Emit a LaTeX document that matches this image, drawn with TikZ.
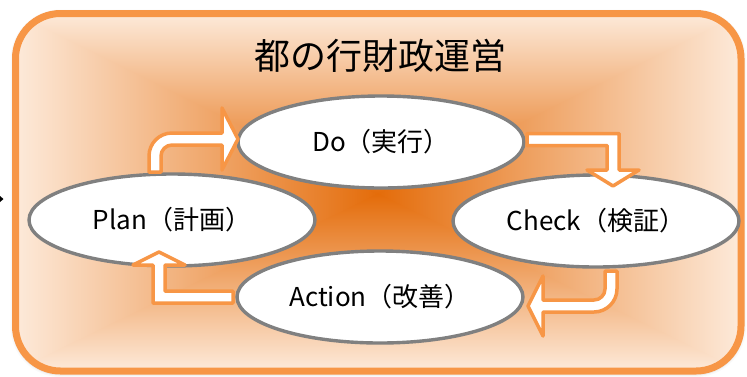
\documentclass[tikz,border=0pt]{standalone}
\usepackage{fontspec}
\setmainfont{Noto Sans CJK JP}
\usetikzlibrary{shapes.geometric,shadows.blur}
\definecolor{bord}{RGB}{247,150,70}
\definecolor{light}{RGB}{253,234,218}
\definecolor{dark}{RGB}{228,108,10}
\definecolor{ellgray}{RGB}{128,128,128}
\tikzset{
  phase/.style={ellipse, draw=ellgray, line width=3.4pt, fill=white,
    minimum width=286pt, minimum height=92pt, inner sep=0pt,
    font=\fontsize{26pt}{30pt}\selectfont},
  blockarrow/.style={draw=bord, fill=white, line width=3.5pt, line join=round},
}
\begin{document}
\begin{tikzpicture}[x=1pt,y=-1pt]
\useasboundingbox (0,0) rectangle (747,376);
% shadow
\path[blur shadow={shadow xshift=0pt, shadow yshift=-1pt, shadow blur radius=5pt, shadow opacity=35}]
  [rounded corners=45pt] (15.5,13.5) rectangle (741,371);
% gradient background
\begin{scope}
\clip[rounded corners=45pt] (15.5,13.5) rectangle (741,371);
\coordinate (C) at (378,194);
\coordinate (TL) at (15.5,13.5);
\coordinate (TR) at (741,13.5);
\coordinate (BL) at (15.5,371);
\coordinate (BR) at (741,371);
\shade[left color=light, right color=dark] (15.5,13.5) rectangle (378.5,371);
\shade[left color=dark, right color=light] (377.5,13.5) rectangle (741,371);
\shade[top color=light, bottom color=dark] (C) -- (TL) -- (TR) -- cycle;
\shade[top color=dark, bottom color=light] (C) -- (BL) -- (BR) -- cycle;
\end{scope}
\draw[bord, line width=7pt, rounded corners=45pt] (15.5,13.5) rectangle (741,371);
% stray arrow tip at the left edge
\fill (0,196) -- (3.5,199) -- (0,202) -- cycle;
% title
\node[font=\fontsize{36pt}{40pt}\selectfont] (title) at (380,56) {都の行財政運営};
% phases
\node[phase] (do) at (381,142) {Do（実行）};
\node[phase] (plan) at (172,220) {Plan（計画）};
\node[phase] (check) at (596,221) {Check（検証）};
\node[phase] (act) at (380,297) {Action（改善）};
% Plan -> Do
\draw[blockarrow] (149,172) -- (149,156) .. controls (149,143.3) and (159.3,133) .. (172,133)
  -- (222,133) -- (222,108) -- (238,139) -- (222,170) -- (222,145) -- (172,145)
  .. controls (165.95,145) and (161,149.95) .. (161,156) -- (161,172) -- cycle;
% Do -> Check
\draw[blockarrow] (527,133.5) -- (619,133.5) -- (619,170) -- (639,170) -- (613,186)
  -- (587,170) -- (607,170) -- (607,145.5) -- (527,145.5) -- cycle;
% Check -> Action
\draw[blockarrow] (605,271) -- (617,271) -- (617,289) .. controls (617,301.65) and (606.65,312) .. (594,312)
  -- (543,312) -- (543,336) -- (528,306) -- (543,276) -- (543,300) -- (594,300)
  .. controls (600.05,300) and (605,295.05) .. (605,289) -- cycle;
% Action -> Plan
\draw[blockarrow] (233,291) -- (165,291) -- (165,265) -- (185,265) -- (159,252)
  -- (133,265) -- (153,265) -- (153,303) -- (233,303) -- cycle;
\end{tikzpicture}
\end{document}
